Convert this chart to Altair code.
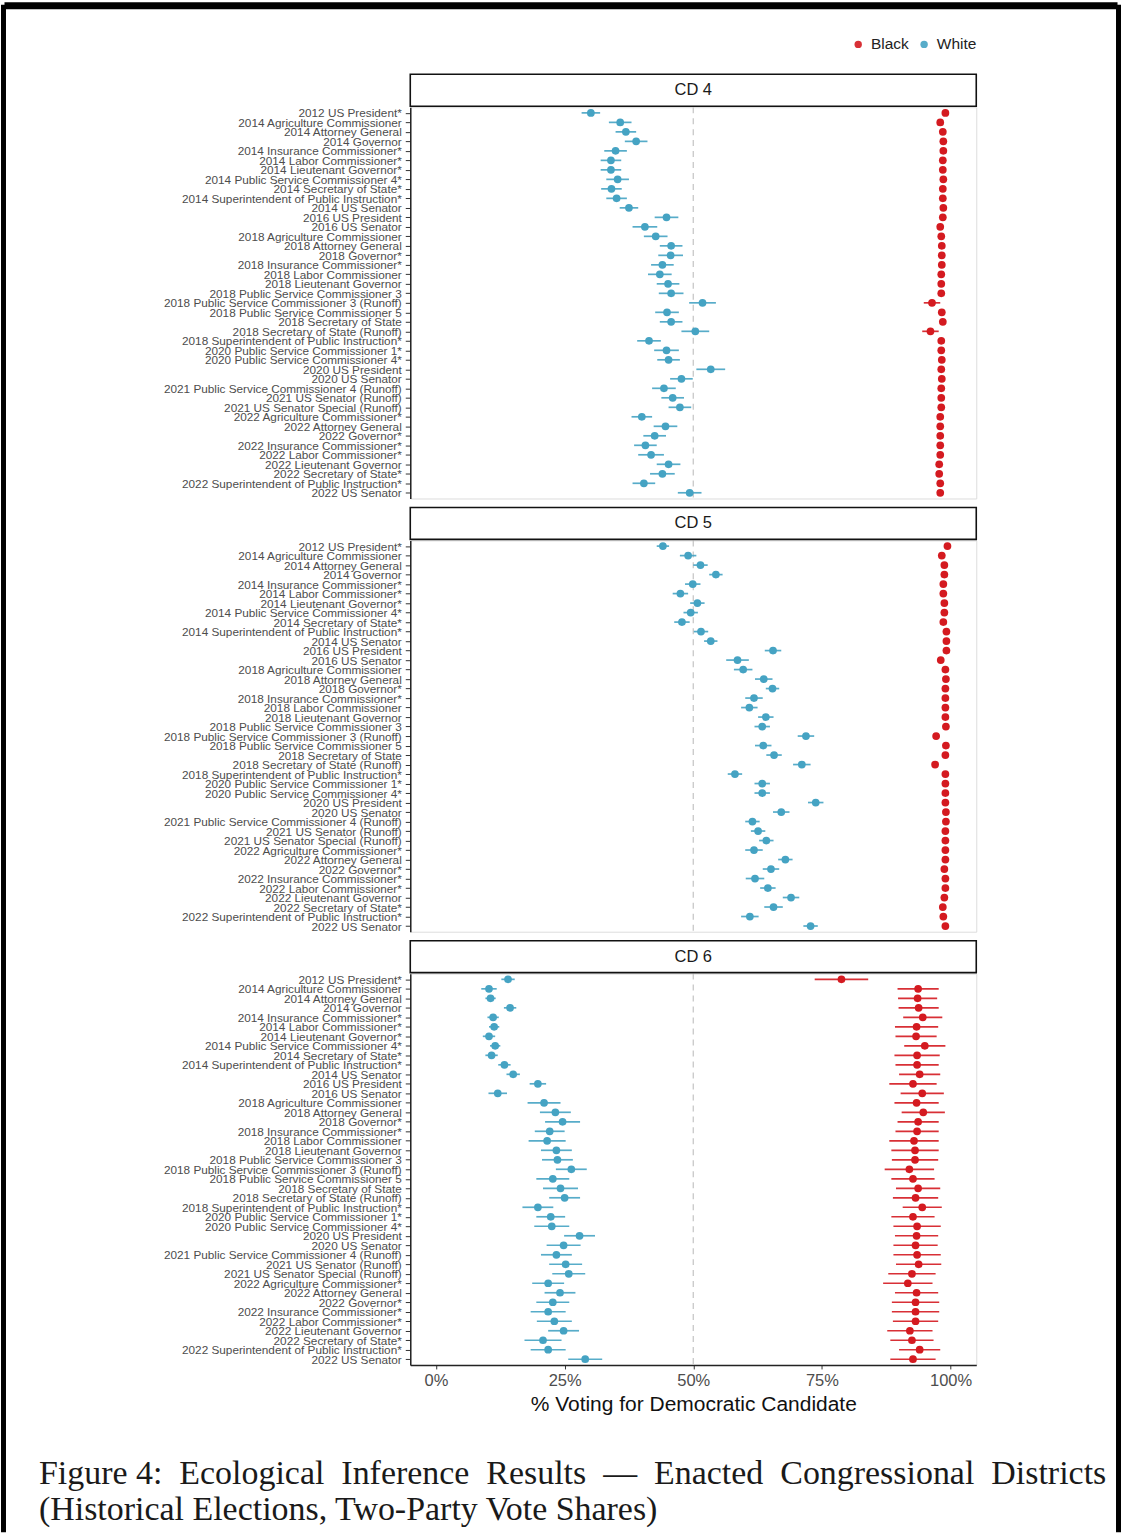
import altair as alt
import pandas as pd

# Elections, top to bottom in each panel
ELECTIONS = [
    "2012 US President*",
    "2014 Agriculture Commissioner",
    "2014 Attorney General",
    "2014 Governor",
    "2014 Insurance Commissioner*",
    "2014 Labor Commissioner*",
    "2014 Lieutenant Governor*",
    "2014 Public Service Commissioner 4*",
    "2014 Secretary of State*",
    "2014 Superintendent of Public Instruction*",
    "2014 US Senator",
    "2016 US President",
    "2016 US Senator",
    "2018 Agriculture Commissioner",
    "2018 Attorney General",
    "2018 Governor*",
    "2018 Insurance Commissioner*",
    "2018 Labor Commissioner",
    "2018 Lieutenant Governor",
    "2018 Public Service Commissioner 3",
    "2018 Public Service Commissioner 3 (Runoff)",
    "2018 Public Service Commissioner 5",
    "2018 Secretary of State",
    "2018 Secretary of State (Runoff)",
    "2018 Superintendent of Public Instruction*",
    "2020 Public Service Commissioner 1*",
    "2020 Public Service Commissioner 4*",
    "2020 US President",
    "2020 US Senator",
    "2021 Public Service Commissioner 4 (Runoff)",
    "2021 US Senator (Runoff)",
    "2021 US Senator Special (Runoff)",
    "2022 Agriculture Commissioner*",
    "2022 Attorney General",
    "2022 Governor*",
    "2022 Insurance Commissioner*",
    "2022 Labor Commissioner*",
    "2022 Lieutenant Governor",
    "2022 Secretary of State*",
    "2022 Superintendent of Public Instruction*",
    "2022 US Senator",
]

DISTRICTS = ["CD 4", "CD 5", "CD 6"]
GROUPS = ["Black", "White"]

CAPTION_LINES = [
    "Figure 4: \u00a0Ecological \u00a0Inference \u00a0Results \u00a0— \u00a0Enacted "
    "\u00a0Congressional \u00a0Districts",
    "(Historical Elections, Two-Party Vote Shares)",
]

# Point estimates (% voting Democratic) and half-widths of the intervals
CD4_BLACK = [99.0, 98.0, 98.5, 98.6, 98.6, 98.5, 98.5, 98.6, 98.5, 98.5, 98.6, 98.5, 98.0, 98.2,
             98.3, 98.3, 98.3, 98.2, 98.2, 98.2, 96.4, 98.3, 98.5, 96.1, 98.2, 98.2, 98.3, 98.2,
             98.3, 98.2, 98.2, 98.2, 98.0, 98.0, 98.0, 98.0, 98.0, 97.8, 97.8, 98.0, 98.0]
CD4_BLACK_ERR = [0.4, 0.4, 0.4, 0.4, 0.4, 0.4, 0.4, 0.4, 0.4, 0.4, 0.4, 0.4, 0.5, 0.4,
                 0.4, 0.4, 0.4, 0.4, 0.4, 0.4, 1.6, 0.4, 0.4, 1.6, 0.4, 0.4, 0.4, 0.4,
                 0.4, 0.4, 0.4, 0.4, 0.4, 0.4, 0.4, 0.4, 0.4, 0.5, 0.5, 0.4, 0.4]
CD4_WHITE = [30.1, 35.8, 36.9, 38.9, 34.9, 34.0, 34.0, 35.3, 34.1, 35.1, 37.5, 44.8, 40.6, 42.7,
             45.7, 45.6, 44.0, 43.5, 45.1, 45.7, 51.8, 44.9, 45.7, 50.4, 41.4, 44.8, 45.2, 53.4,
             47.7, 44.3, 46.0, 47.4, 40.0, 44.6, 42.5, 40.7, 41.8, 45.2, 44.0, 40.4, 49.3]
CD4_WHITE_ERR = [1.8, 2.2, 2.0, 2.2, 2.2, 2.0, 2.0, 2.2, 2.0, 2.0, 1.8, 2.3, 2.4, 2.3,
                 2.2, 2.4, 2.2, 2.3, 2.2, 2.4, 2.6, 2.3, 2.2, 2.7, 2.3, 2.4, 2.2, 2.8,
                 2.2, 2.3, 2.2, 2.2, 2.0, 2.3, 2.2, 2.2, 2.5, 2.3, 2.4, 2.2, 2.3]

CD5_BLACK = [99.4, 98.3, 98.8, 98.8, 98.6, 98.6, 98.8, 98.8, 98.6, 99.2, 99.2, 99.2, 98.1, 99.0,
             99.1, 99.0, 99.0, 99.0, 99.0, 99.1, 97.2, 99.1, 99.0, 97.0, 99.0, 99.0, 99.0, 99.0,
             99.1, 99.1, 99.0, 99.0, 99.0, 99.0, 98.8, 99.0, 99.0, 98.8, 98.5, 98.6, 99.0]
CD5_BLACK_ERR = [0.3, 0.3, 0.3, 0.3, 0.3, 0.3, 0.3, 0.3, 0.3, 0.3, 0.3, 0.3, 0.3, 0.3,
                 0.3, 0.3, 0.3, 0.3, 0.3, 0.3, 0.6, 0.3, 0.3, 0.6, 0.3, 0.3, 0.3, 0.3,
                 0.3, 0.3, 0.3, 0.3, 0.3, 0.3, 0.3, 0.3, 0.3, 0.3, 0.3, 0.3, 0.3]
CD5_WHITE = [44.1, 49.0, 51.4, 54.4, 49.9, 47.5, 50.8, 49.5, 47.8, 51.5, 53.4, 65.5, 58.6, 59.7,
             63.7, 65.4, 61.8, 60.9, 64.1, 63.4, 71.9, 63.6, 65.7, 71.1, 58.1, 63.4, 63.4, 73.8,
             67.1, 61.5, 62.6, 64.2, 61.8, 67.9, 65.1, 62.0, 64.5, 69.0, 65.6, 61.0, 72.8]
CD5_WHITE_ERR = [1.2, 1.6, 1.4, 1.3, 1.5, 1.5, 1.4, 1.4, 1.5, 1.4, 1.3, 1.6, 2.2, 1.8,
                 1.7, 1.3, 1.7, 1.6, 1.5, 1.5, 1.6, 1.6, 1.5, 1.7, 1.4, 1.5, 1.5, 1.5,
                 1.6, 1.4, 1.4, 1.4, 1.7, 1.4, 1.6, 1.8, 1.5, 1.6, 1.8, 1.7, 1.4]

CD6_BLACK = [78.8, 93.7, 93.6, 93.8, 94.6, 93.4, 93.3, 95.0, 93.5, 93.5, 94.0, 92.7, 94.5, 93.4,
             94.7, 93.7, 93.5, 92.9, 93.1, 93.1, 92.0, 92.7, 93.7, 93.2, 94.5, 92.7, 93.5, 93.4,
             93.2, 93.5, 93.8, 92.5, 91.7, 93.4, 93.2, 93.2, 93.2, 92.1, 92.5, 94.0, 92.7]
CD6_BLACK_ERR = [5.2, 4.0, 3.8, 3.9, 3.8, 4.2, 4.0, 4.0, 4.4, 4.2, 4.0, 4.6, 4.2, 4.3,
                 4.2, 4.0, 4.2, 4.8, 4.6, 4.5, 4.8, 4.2, 4.3, 4.4, 3.8, 4.2, 4.6, 4.2,
                 4.3, 4.6, 4.4, 4.6, 4.8, 4.2, 4.6, 4.6, 4.4, 4.4, 4.2, 4.0, 4.4]
CD6_WHITE = [14.0, 10.3, 10.6, 14.4, 11.1, 11.3, 10.3, 11.5, 10.8, 13.3, 15.0, 19.8, 12.0, 21.0,
             23.2, 24.6, 22.1, 21.6, 23.4, 23.6, 26.3, 22.7, 24.2, 25.0, 19.8, 22.3, 22.5, 27.9,
             24.8, 23.4, 25.2, 25.8, 21.8, 24.1, 22.7, 21.8, 23.0, 24.8, 20.8, 21.8, 29.0]
CD6_WHITE_ERR = [1.3, 1.5, 1.0, 1.2, 1.1, 1.0, 1.2, 1.0, 1.2, 1.2, 1.3, 1.6, 1.8, 3.2,
                 3.0, 3.4, 2.9, 3.6, 3.0, 3.0, 3.0, 3.2, 3.4, 3.0, 3.0, 2.8, 3.4, 3.0,
                 3.3, 3.0, 3.2, 3.2, 3.1, 3.0, 3.2, 3.4, 3.4, 3.0, 3.6, 3.4, 3.3]

SERIES = {
    ("CD 4", "Black"): (CD4_BLACK, CD4_BLACK_ERR),
    ("CD 4", "White"): (CD4_WHITE, CD4_WHITE_ERR),
    ("CD 5", "Black"): (CD5_BLACK, CD5_BLACK_ERR),
    ("CD 5", "White"): (CD5_WHITE, CD5_WHITE_ERR),
    ("CD 6", "Black"): (CD6_BLACK, CD6_BLACK_ERR),
    ("CD 6", "White"): (CD6_WHITE, CD6_WHITE_ERR),
}

records = []
for (district, group), (est, err) in SERIES.items():
    for election, e, h in zip(ELECTIONS, est, err):
        records.append({
            "district": district, "group": group, "election": election,
            "est": e / 100, "lo": (e - h) / 100, "hi": (e + h) / 100,
        })
df = pd.DataFrame(records)

RED = "#d41a20"
BLUE = "#45a3c3"
W, H, STRIP_H = 567, 392, 32
PANEL_STEP = 434          # distance between the tops of consecutive panels
ORIGIN_X, ORIGIN_Y = 410, 105   # where the first panel sits on the page
PAGE_W, PAGE_H = 1122, 1535
X_TITLE = "% Voting for Democratic Candidate"

x_scale = alt.Scale(domain=[-0.05, 1.05], nice=False, zero=False)
y_scale = alt.Scale(type="point", padding=0.6)

y_axis = alt.Axis(
    title=None, labelFontSize=11.8, labelFont="Liberation Sans", labelColor="#4d4d4d",
    labelLimit=400, labelOverlap=False, labelPadding=4, tickColor="#333333", tickSize=5,
    domainColor="#222222", domainWidth=1.5, grid=False,
)


def x_axis_for(show):
    if not show:
        return None
    return alt.Axis(
        title=X_TITLE, values=[0, 0.25, 0.5, 0.75, 1], format=".0%",
        labelFontSize=16.5, labelFont="Liberation Sans", labelColor="#4d4d4d",
        labelPadding=4, tickColor="#333333", tickSize=4, domainColor="#222222",
        domainWidth=1.5, grid=False, titleFontSize=21, titleFont="Liberation Sans",
        titleFontWeight="normal", titleColor="#111111", titlePadding=4,
    )


color = alt.Color(
    "group:N",
    scale=alt.Scale(domain=GROUPS, range=[RED, BLUE]),
    legend=alt.Legend(
        orient="none", legendX=441, legendY=-71, direction="horizontal", title=None,
        symbolType="circle", symbolSize=55, symbolStrokeWidth=0, labelFontSize=15.5,
        labelFont="Liberation Sans", labelColor="#222222", labelOffset=5, columnPadding=7,
    ),
)

TOP_W, SIDE_W = 7, 5   # border thickness along the top and the sides


def page_frame():
    """Black border along the top, left and right edges of the page."""
    d = pd.DataFrame({"edge": ["frame"]})
    left, right = -ORIGIN_X, PAGE_W - ORIGIN_X
    top, bottom = -ORIGIN_Y, PAGE_H - ORIGIN_Y
    # stroke half-widths are kept inside the page so the canvas stays page-sized
    top_rule = alt.Chart(d).mark_rule(color="#000000", strokeWidth=TOP_W).encode(
        x=alt.value(left + TOP_W / 2), x2=alt.value(right - TOP_W / 2),
        y=alt.value(top + TOP_W / 2),
    )
    left_rule = alt.Chart(d).mark_rule(color="#000000", strokeWidth=SIDE_W).encode(
        x=alt.value(left + SIDE_W / 2),
        y=alt.value(top + SIDE_W / 2), y2=alt.value(bottom - SIDE_W / 2),
    )
    right_rule = alt.Chart(d).mark_rule(color="#000000", strokeWidth=SIDE_W).encode(
        x=alt.value(right - SIDE_W / 2),
        y=alt.value(top + SIDE_W / 2), y2=alt.value(bottom - SIDE_W / 2),
    )
    return [top_rule, left_rule, right_rule]


def caption_layers():
    panel_top = ORIGIN_Y + 2 * PANEL_STEP
    layers = []
    for i, line in enumerate(CAPTION_LINES):
        d = pd.DataFrame({"line": [line]})
        layers.append(
            alt.Chart(d).mark_text(
                align="left", baseline="middle", font="Liberation Serif", fontSize=34,
                color="#1a1a1a",
            ).encode(
                x=alt.value(38 - ORIGIN_X), y=alt.value(1474 + 36 * i - panel_top),
                text="line:N",
            )
        )
    return layers


def panel(district, idx):
    show_x = idx == len(DISTRICTS) - 1
    x_axis = x_axis_for(show_x)
    label_df = pd.DataFrame({"district": [district]})

    # facet strip drawn just above the plot area
    strip_box = alt.Chart(label_df).mark_rect(
        fill="white", stroke="#111111", strokeWidth=1.6
    ).encode(x=alt.value(0), x2=alt.value(W), y=alt.value(-STRIP_H - 1), y2=alt.value(-1))
    strip_text = alt.Chart(label_df).mark_text(
        fontSize=16.5, font="Liberation Sans", color="#1a1a1a", baseline="middle"
    ).encode(x=alt.value(W / 2), y=alt.value(-STRIP_H / 2 - 1), text="district:N")

    base = alt.Chart(df).transform_filter(alt.datum.district == district)
    y = alt.Y("election:N", sort=ELECTIONS, scale=y_scale, axis=y_axis)
    ref = alt.Chart(pd.DataFrame({"mid": [0.5]})).mark_rule(
        strokeDash=[6, 5], color="#c8c8c8", strokeWidth=1.3
    ).encode(x=alt.X("mid:Q", scale=x_scale, axis=x_axis))
    bars = base.mark_rule(strokeWidth=1.7, opacity=0.9).encode(
        x=alt.X("lo:Q", scale=x_scale, axis=x_axis), x2="hi:Q", y=y, color=color
    )
    pts = base.mark_circle(size=60, opacity=1).encode(
        x=alt.X("est:Q", scale=x_scale, axis=x_axis), y=y, color=color
    )
    layers = [ref, bars, pts, strip_box, strip_text]
    if idx == 0:
        layers += page_frame()
    if show_x:
        layers += caption_layers()
    return alt.layer(*layers).properties(width=W, height=H)


panels = [panel(d, i) for i, d in enumerate(DISTRICTS)]

chart = (
    alt.vconcat(*panels, spacing=PANEL_STEP - H, bounds="flush")
    .properties(padding=0)
    .configure_view(strokeWidth=0)
    .configure(background="white")
)

chart.save("out.html", embed_options={"renderer": "svg", "actions": False})
